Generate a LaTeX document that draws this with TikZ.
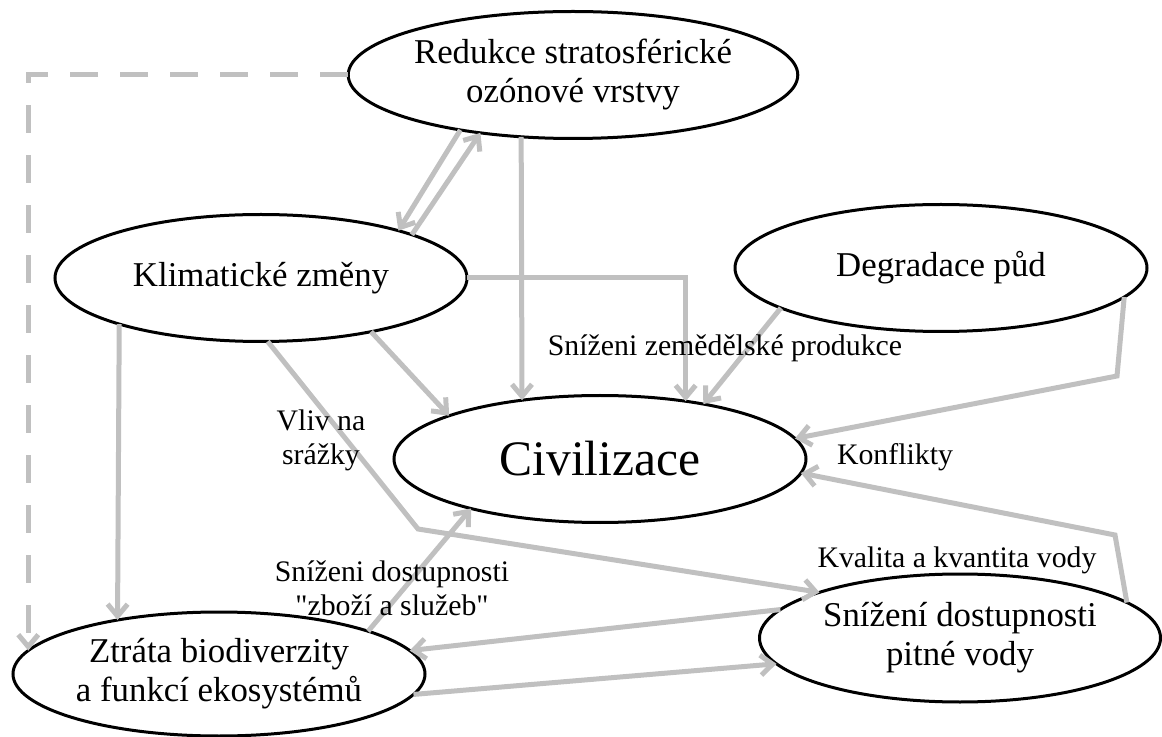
\documentclass[tikz,border=0pt]{standalone}
\usepackage{fontspec}
\setmainfont{Liberation Serif}
\usepackage{tikz}
\usetikzlibrary{shapes.geometric,arrows.meta}
\definecolor{linkgray}{RGB}{192,192,192}
\newcommand{\causefont}{\fontsize{17.4}{19.5}\selectfont}
\newcommand{\notefont}{\fontsize{14.9}{17}\selectfont}
\tikzset{
  cause/.style={ellipse, draw=black, line width=1.5pt, minimum width=206pt,
    minimum height=63.5pt, inner sep=0pt, outer sep=0pt, align=center, font=\causefont},
  link/.style={draw=linkgray, line width=2.5pt, -{Straight Barb[length=6pt,width=10pt]}},
  note/.style={align=center, font=\notefont}
}
\begin{document}
\begin{tikzpicture}[x=0.5pt, y=-0.5pt]
			\useasboundingbox (0,0) rectangle (1162,737);
			\node[cause] (redukce) at (573,75) {Redukce stratosférické\\ozónové vrstvy};
			\node[cause] (klima) at (261,278) {Klimatické změny};
			\node[cause] (degrad) at (941,268) {Degradace půd};
			\node[cause, font=\fontsize{24.8}{28}\selectfont] (civil) at (600,459) {Civilizace};
			\node[cause, minimum height=62pt] (ztrata) at (219,674) {Ztráta biodiverzity\\a funkcí ekosystémů};
			\node[cause, minimum width=200.5pt, minimum height=64pt] (voda) at (960,638) {Snížení dostupnosti\\pitné vody};
			\coordinate (bendA) at (418,529);
			\coordinate (bendB) at (1117,376);
			\coordinate (bendC) at (1115,535);
			\draw[link, dash pattern=on 14pt off 11pt] (redukce.west) -| (ztrata.173);
			\draw[link] (redukce.206) -- (klima.19);
			\draw[link] (klima.16) -- (redukce.212);
			\draw[link] (redukce.230) -- (civil.143);
			\draw[link] (klima.east) -| (civil.34);
			\draw[link] (klima.334) -- (civil.164);
			\draw[link] (klima.198) -- (ztrata.152);
			\draw[link] (klima.276) -- (bendA) -- (voda.162);
			\draw[link] (degrad.194) -- (civil.28);
			\draw[link] (degrad.351) -- (bendB) -- (civil.6);
			\draw[link] (voda.12) -- (bendC) -- (civil.356);
			\draw[link] (voda.171) -- (ztrata.7);
			\draw[link] (ztrata.354) -- (voda.188);
			\draw[link] (ztrata.16) -- (civil.201);
			\node[note] (vliv) at (321,440) {Vliv na\\srážky};
			\node[note] (zemed) at (725,348) {Sníženi zemědělské produkce};
			\node[note] (zbozi) at (392,588) {Sníženi dostupnosti\\\textquotedbl zboží a služeb\textquotedbl};
			\node[note] (konfl) at (895,457) {Konflikty};
			\node[note] (kvalita) at (957,560) {Kvalita a kvantita vody};
\end{tikzpicture}
\end{document}
